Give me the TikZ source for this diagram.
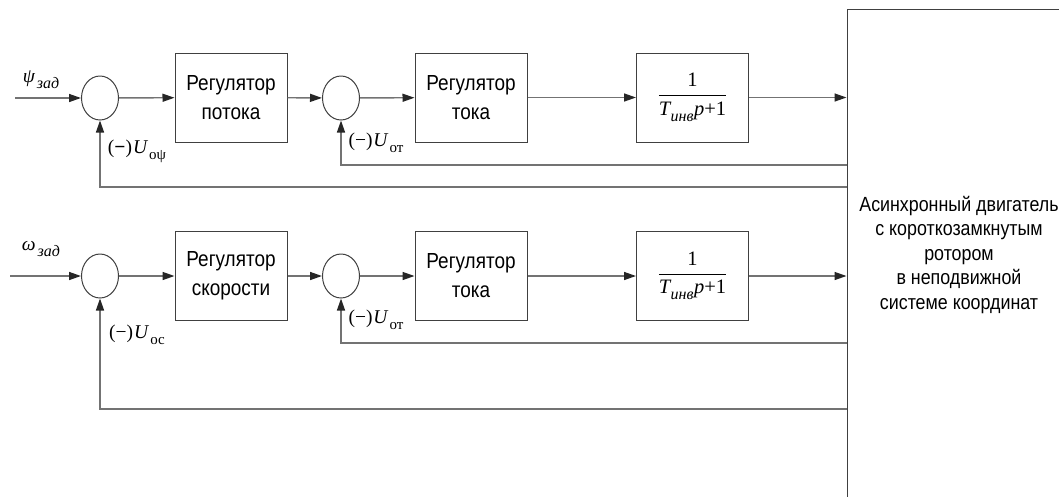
\documentclass[tikz,border=0pt]{standalone}
\usepackage{fontspec}
\usepackage{amsmath}
\setmainfont{Liberation Serif}
\newfontfamily\sansf[FakeStretch=0.87]{Liberation Sans}
\usetikzlibrary{arrows.meta,shapes.geometric}
\newcommand\sbs[2][15]{\raisebox{-0.3em}{\fontsize{#1}{#1}\selectfont #2}}
\newcommand\myfrac{\rmfamily\fontsize{20.5}{24}\selectfont$\dfrac{\hbox{1}}{\hbox{\itshape T\kern0.5pt\sbs[16]{инв}\kern0.5pt p\upshape +1}}$}
\begin{document}
\begin{tikzpicture}[x=1pt,y=-1pt,
  blk/.style={draw=black!75, line width=1pt, minimum width=112pt, minimum height=89pt,
    font=\sansf\fontsize{21.8}{29}\selectfont, align=center, inner sep=0pt},
  bigblk/.style={draw=black!75, line width=1pt, minimum width=224pt, minimum height=492pt,
    font=\sansf\fontsize{20.5}{24.5}\selectfont, align=center, inner sep=0pt},
  sumnode/.style={draw=black!75, line width=1pt, ellipse, minimum width=37pt, minimum height=44pt, inner sep=0pt},
  con/.style={draw=black!55, line width=1.4pt, -{Triangle[length=12pt,width=8pt,color=black!85]}},
  lab/.style={font=\fontsize{19.5}{22}\selectfont, inner sep=0pt}
]
\useasboundingbox (0,0) rectangle (1059,496);
% ---- big block
\node[bigblk] (m) at (959,255) {Асинхронный двигатель\\с короткозамкнутым\\ротором\\в неподвижной\\системе координат};
% ---- top row
\node[sumnode] (s1) at (100,98) {};
\node[blk] (b1) at (231,97.5) {Регулятор\\потока};
\node[sumnode] (s2) at (341,98) {};
\node[blk] (b2) at (471,97.5) {Регулятор\\тока};
\node[blk] (b3) at (692.5,97.5) {\myfrac};
\coordinate (in1) at (15,98);
\coordinate (fo1) at (847,187);
\coordinate (fi1) at (847,165);
\draw[con] (in1) -- (s1);
\draw[con] (s1) -- (b1);
\draw[con] (b1) -- (s2);
\draw[con] (s2) -- (b2);
\draw[con] (b2) -- (b3);
\draw[con] (b3.east) -- (b3.east -| m.west);
\draw[con] (fi1) -| (s2.south);
\draw[con] (fo1) -| (s1.south);
\node[lab] (l1) at (41,80) {\itshape ψ\kern2pt\sbs[16]{зад}};
\node[lab] (l2) at (137,151) {({\bfseries −})\kern1pt\textit{U}\kern1pt\sbs{оψ}};
\node[lab] (l3) at (376,143) {(−)\kern1pt\textit{U}\kern1pt\sbs{от}};
% ---- bottom row
\node[sumnode] (s3) at (100,276) {};
\node[blk] (b4) at (231,276) {Регулятор\\скорости};
\node[sumnode] (s4) at (341,276) {};
\node[blk] (b5) at (471,276) {Регулятор\\тока};
\node[blk] (b6) at (692.5,276) {\myfrac};
\coordinate (in2) at (10,276);
\coordinate (fo2) at (847,409);
\coordinate (fi2) at (847,343);
\draw[con] (in2) -- (s3);
\draw[con] (s3) -- (b4);
\draw[con] (b4) -- (s4);
\draw[con] (s4) -- (b5);
\draw[con] (b5) -- (b6);
\draw[con] (b6.east) -- (b6.east -| m.west);
\draw[con] (fi2) -| (s4.south);
\draw[con] (fo2) -| (s3.south);
\node[lab] (l4) at (41,249) {\itshape ω\kern2pt\sbs[16]{зад}};
\node[lab] (l5) at (137,335) {(−)\kern1pt\textit{U}\kern1pt\sbs{ос}};
\node[lab] (l6) at (376,320) {(−)\kern1pt\textit{U}\kern1pt\sbs{от}};
\end{tikzpicture}
\end{document}
